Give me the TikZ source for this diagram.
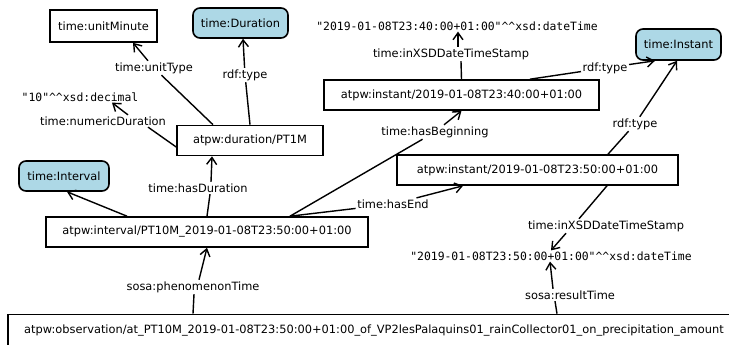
\documentclass[tikz,border=0pt]{standalone}
\usepackage{fontspec}
\setmainfont{DejaVu Sans}
\setmonofont{DejaVu Sans Mono}
\usetikzlibrary{arrows.meta}
\definecolor{clsblue}{HTML}{ADD8E6}
\newcommand\lbfont{\fontsize{11.4}{13.7}\selectfont}
\newcommand\litfont{\ttfamily\fontsize{11.4}{13.7}\selectfont}
\newcommand\crt{\textasciicircum\textasciicircum}
\tikzset{
  box/.style={draw, line width=1.6pt, minimum height=30pt, inner xsep=0pt, font=\lbfont, fill=white},
  cls/.style={box, rounded corners=7pt, fill=clsblue},
  lit/.style={inner sep=1pt, font=\litfont},
  elbl/.style={inner sep=1.5pt, font=\lbfont},
  edge/.style={line width=1.4pt},
  arr/.style={edge, -{Straight Barb[length=7pt,width=10pt]}},
}
\begin{document}
\begin{tikzpicture}[x=1pt, y=-1pt]
\useasboundingbox (0,0) rectangle (729,345);
\clip (0,0) rectangle (729,345);
% resource nodes
\node[box, minimum width=107pt, minimum height=32pt] (umin) at (103.5,26) {time:unitMinute};
\node[cls, minimum width=95pt] (tdur) at (240.5,23) {time:Duration};
\node[lit] (lit40) at (457,26) {"2019-01-08T23:40:00+01:00"\crt xsd:dateTime};
\node[cls, minimum width=85pt, minimum height=31pt] (tinst) at (678.5,44.5) {time:Instant};
\node[box, minimum width=275pt] (i40) at (461.5,95) {atpw:instant/2019-01-08T23:40:00+01:00};
\node[lit] (dec) at (80,97) {"10"\crt xsd:decimal};
\node[box, minimum width=146pt] (dur) at (250,140.5) {atpw:duration/PT1M};
\node[box, minimum width=281pt] (i50) at (537.5,170) {atpw:instant/2019-01-08T23:50:00+01:00};
\node[cls, minimum width=90pt] (tint) at (64,176) {time:Interval};
\node[box, minimum width=322pt] (intv) at (207,232) {atpw:interval/PT10M\_2019-01-08T23:50:00+01:00};
\node[lit] (lit50) at (551,256) {"2019-01-08T23:50:00+01:00"\crt xsd:dateTime};
\node[box, minimum width=732pt, minimum height=32pt] (obs) at (374,330.5) {atpw:observation/at\_PT10M\_2019-01-08T23:50:00+01:00\_of\_VP2lesPalaquins01\_rainCollector01\_on\_precipitation\_amount};
% edge labels
\node[elbl] (l-ut) at (154,68) {time:unitType};
\node[elbl] (l-rt1) at (245,75) {rdf:type};
\node[elbl] (l-nd) at (103,121) {time:numericDuration};
\node[elbl] (l-ix1) at (451,54) {time:inXSDDateTimeStamp};
\node[elbl] (l-rt2) at (605,68) {rdf:type};
\node[elbl] (l-hb) at (435,132) {time:hasBeginning};
\node[elbl] (l-rt3) at (635,124) {rdf:type};
\node[elbl] (l-hd) at (198,188) {time:hasDuration};
\node[elbl] (l-he) at (393,204) {time:hasEnd};
\node[elbl] (l-ix2) at (606,226) {time:inXSDDateTimeStamp};
\node[elbl] (l-pt) at (193,287) {sosa:phenomenonTime};
\node[elbl] (l-rs) at (570,295) {sosa:resultTime};
% edges
\draw[edge] ([xshift=-37]dur.north) -- (l-ut);
\draw[arr] (l-ut) -- ([xshift=29.5]umin.south);
\draw[edge] (dur.north) -- (l-rt1);
\draw[arr] (l-rt1) -- ([xshift=2.5]tdur.south);
\draw[edge] ([yshift=-6.5]dur.west) -- ([xshift=45]l-nd.south);
\draw[arr] ([xshift=25]l-nd.north) -- ([xshift=32]dec.south);
\draw[arr] ([xshift=-80]intv.north) -- ([xshift=3]tint.south);
\draw[edge] (intv.north) -- ([xshift=12]l-hd.south);
\draw[arr] ([xshift=13]l-hd.north) -- ([xshift=-38]dur.south);
\draw[edge] ([xshift=83]intv.north) -- (l-hb);
\draw[arr] (l-hb) -- (i40.south);
\draw[edge] ([xshift=83]intv.north) -- (l-he);
\draw[arr] (l-he) -- ([xshift=-74.5]i50.south);
\draw[edge] (i40.north) -- ([xshift=10]l-ix1.south);
\draw[arr] ([xshift=7]l-ix1.north) -- ([xshift=1]lit40.south);
\draw[edge] ([xshift=68.5]i40.north) -- (l-rt2);
\draw[arr] (l-rt2) -- ([xshift=-23.5]tinst.south);
\draw[edge] ([xshift=70.5]i50.north) -- (l-rt3);
\draw[arr] (l-rt3) -- ([xshift=-1.5]tinst.south);
\draw[edge] ([xshift=69.5]i50.south) -- ([xshift=-27]l-ix2.north);
\draw[arr] ([xshift=-40]l-ix2.south) -- (lit50.north);
\draw[edge] ([xshift=-181]obs.north) -- ([xshift=1]l-pt.south);
\draw[arr] ([xshift=6]l-pt.north) -- (intv.south);
\draw[edge] ([xshift=183]obs.north) -- ([xshift=-15]l-rs.south);
\draw[arr] ([xshift=-17]l-rs.north) -- ([xshift=-1]lit50.south);
\end{tikzpicture}
\end{document}
